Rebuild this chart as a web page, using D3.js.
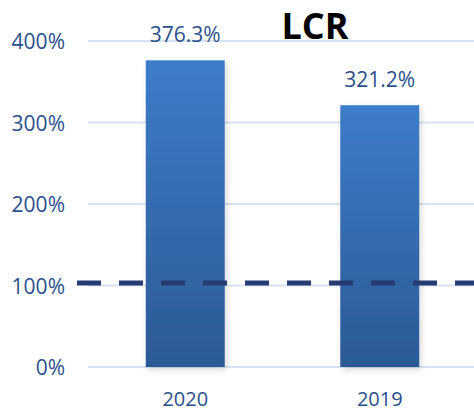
<!DOCTYPE html>
<html>
<head>
<meta charset="utf-8">
<script src="https://cdn.jsdelivr.net/npm/d3@7"></script>
<style>
  body { margin: 0; background: #fff; }
  text { font-family: "Open Sans", sans-serif; }
</style>
</head>
<body>
<div id="chart"></div>
<script>
// data
var years = ["2020", "2019"];
var lcrValues = [376.3, 321.2];
var yTicks = [0, 100, 200, 300, 400];
var threshold = 103; // dashed reference line (drawn just above 100%)

var W = 474, H = 412;
var margin = { top: 41, right: 0, bottom: 45, left: 88 };

var svg = d3.select("#chart").append("svg")
  .attr("width", W)
  .attr("height", H);

var defs = svg.append("defs");
var grad = defs.append("linearGradient")
  .attr("id", "barGrad")
  .attr("x1", 0).attr("y1", 0).attr("x2", 0).attr("y2", 1);
grad.append("stop").attr("offset", "0%").attr("stop-color", "#3d7cc9");
grad.append("stop").attr("offset", "100%").attr("stop-color", "#2c5a95");

var shadow = defs.append("filter").attr("id", "shadow")
  .attr("x", "-20%").attr("y", "-10%").attr("width", "140%").attr("height", "120%");
shadow.append("feDropShadow")
  .attr("dx", 2).attr("dy", 3).attr("stdDeviation", 3)
  .attr("flood-color", "#000").attr("flood-opacity", 0.15);

var x = d3.scaleBand()
  .domain(years)
  .range([margin.left, W + 3])
  .paddingInner(0.594)
  .paddingOuter(0.297);

var y = d3.scaleLinear()
  .domain([0, 400])
  .range([H - margin.bottom, margin.top]);

// gridlines
svg.append("g")
  .selectAll("line")
  .data(yTicks)
  .enter()
  .append("line")
  .attr("x1", margin.left)
  .attr("x2", W)
  .attr("y1", function (d) { return y(d); })
  .attr("y2", function (d) { return y(d); })
  .style("stroke", "#d8e3f1")
  .style("stroke-width", 2);

// y axis labels
var yAxis = svg.append("g")
  .attr("transform", "translate(65,0)")
  .call(d3.axisLeft(y).tickValues(yTicks).tickSize(0).tickPadding(0)
    .tickFormat(function (d) { return d + "%"; }));
yAxis.select(".domain").remove();
yAxis.selectAll("text")
  .style("font-family", "'Open Sans', sans-serif")
  .style("font-size", "21px")
  .attr("dy", "0.36em")
  .style("fill", "#2b4f8c");

// bars
svg.append("g")
  .selectAll("rect")
  .data(lcrValues)
  .enter()
  .append("rect")
  .attr("x", function (d, i) { return x(years[i]); })
  .attr("y", function (d) { return y(d); })
  .attr("width", x.bandwidth())
  .attr("height", function (d) { return y(0) - y(d); })
  .style("fill", "url(#barGrad)")
  .attr("filter", "url(#shadow)");

// value labels
svg.append("g")
  .selectAll("text")
  .data(lcrValues)
  .enter()
  .append("text")
  .attr("x", function (d, i) { return x(years[i]) + x.bandwidth() / 2; })
  .attr("y", function (d) { return y(d) - 18; })
  .attr("text-anchor", "middle")
  .style("font-size", "21px")
  .style("fill", "#2b4f8c")
  .text(function (d) { return d.toFixed(1) + "%"; });

// x axis labels
var xAxis = svg.append("g")
  .attr("transform", "translate(0," + (H - margin.bottom) + ")")
  .call(d3.axisBottom(x).tickSize(0).tickPadding(0));
xAxis.select(".domain").remove();
xAxis.selectAll("text")
  .style("font-family", "'Open Sans', sans-serif")
  .style("font-size", "20px")
  .style("fill", "#2b4f8c")
  .attr("dy", "1.95em");

// dashed threshold line
svg.append("line")
  .attr("x1", 77)
  .attr("x2", W)
  .attr("y1", y(threshold))
  .attr("y2", y(threshold))
  .style("stroke", "#263b72")
  .style("stroke-width", 5)
  .style("stroke-dasharray", "24,18");

// title
svg.append("text")
  .attr("x", 315)
  .attr("y", 39)
  .attr("text-anchor", "middle")
  .style("font-size", "36px")
  .style("font-weight", "bold")
  .style("fill", "#000")
  .text("LCR");
</script>
</body>
</html>
